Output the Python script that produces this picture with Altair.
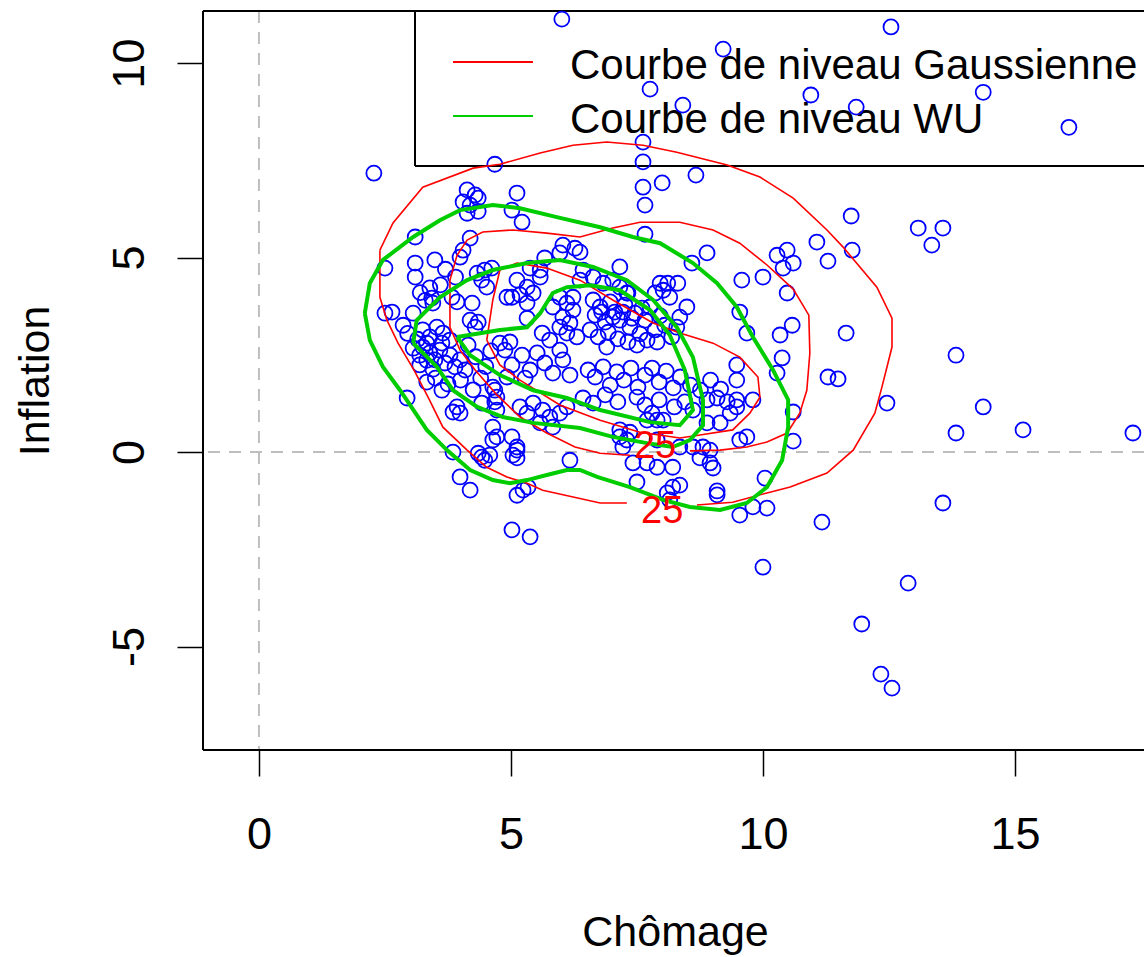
import altair as alt
import pandas as pd

FONT = "Liberation Sans"
X_DOMAIN = [-1.11, 17.56]
Y_DOMAIN = [-7.66, 11.34]
X_TICKS = [0, 5, 10, 15]
Y_TICKS = [-5, 0, 5, 10]

points = [
    (2.28,7.17),(6.01,11.13),(12.54,10.93),(9.21,10.36),(7.76,9.33),(8.41,8.92),(10.95,9.18),(11.85,8.87),(14.37,9.25),(16.07,8.35),
    (7.62,7.97),(7.62,7.46),(4.68,7.40),(8.67,7.12),(7.62,6.81),(8.00,6.92),(7.66,6.35),(11.75,6.07),(7.66,5.60),
    (13.08,5.76),(13.57,5.76),(13.35,5.32),(11.07,5.40),(11.29,4.91),(11.77,5.19),
    (8.89,5.12),(8.59,4.86),(10.28,5.06),(10.48,5.19),(10.40,4.73),(10.60,4.86),(10.00,4.50),(9.58,4.42),(10.48,4.09),
    (9.54,3.60),(9.68,3.06),(10.34,3.01),(10.58,3.26),(11.65,3.06),(13.83,2.49),(10.38,2.42),(10.28,2.03),
    (11.29,1.93),(11.49,1.88),(12.46,1.26),(14.37,1.16),(13.83,0.49),(15.16,0.57),(17.34,0.49),(10.60,1.03),(10.60,0.28),
    (9.48,2.24),(9.48,1.85),(9.80,1.34),(10.04,-0.67),(13.57,-1.31),(11.17,-1.80),(9.54,-1.62),(9.80,-1.41),(10.08,-1.44),
    (9.09,-1.00),(9.09,-1.10),(10.00,-2.96),(12.88,-3.37),(11.96,-4.42),(12.34,-5.71),(12.56,-6.07),
    (8.10,-1.05),(8.21,-0.90),(8.35,-0.85),(8.15,-1.23),(7.50,-0.77),(8.21,-0.39),(7.42,-0.28),(7.70,-0.28),(7.90,-0.39),
    (8.95,-0.28),(9.01,-0.41),(8.75,-0.15),(8.95,0.05),(9.68,0.39),(9.54,0.31),(8.81,0.13),(8.61,0.13),(8.35,0.13),
    (7.22,0.13),(7.16,0.39),(7.36,0.51),(7.90,0.31),(7.70,0.82),(7.90,0.82),(8.02,0.82),(7.80,1.00),(8.89,0.75),(9.15,0.75),
    (8.61,1.08),(9.35,1.00),(9.48,1.16),(7.16,0.57),(7.30,0.31),
    (2.50,4.73),(3.10,5.53),(3.10,4.86),(3.10,4.50),(3.49,4.94),
    (4.13,6.74),(4.29,6.61),(4.05,6.43),(4.35,6.53),(4.19,6.35),(4.13,6.14),(4.35,6.19),
    (5.12,6.66),(5.02,6.22),(5.22,5.91),(4.19,5.50),(4.05,5.19),(3.99,5.01),
    (6.03,5.32),(6.27,5.24),(5.97,5.12),(5.67,4.99),
    (5.38,4.73),(5.58,4.50),(5.12,4.42),(5.32,4.24),(5.18,4.04),(5.44,4.09),(5.02,3.98),(5.32,3.83),(5.58,4.68),
    (4.33,4.60),(4.48,4.68),(4.62,4.73),(4.42,4.42),(4.52,4.24),
    (3.39,4.22),(3.43,3.96),(3.83,3.98),(3.93,3.86),(2.50,3.57),(2.64,3.60),(2.86,3.26),(3.06,3.57),(3.45,3.83),(4.23,3.83),
    (4.19,3.39),(4.35,3.34),(4.29,3.21),(5.32,3.44),
    (3.25,3.14),(3.39,2.96),(3.53,3.21),(3.65,3.06),(3.79,2.88),(3.33,2.80),
    (4.92,3.98),(4.78,2.80),(4.98,2.83),
    (5.97,3.98),(6.11,3.83),(6.23,3.65),(6.03,3.47),(6.17,3.32),(5.97,3.21),(6.11,3.06),(6.31,2.96),(6.23,3.98),(5.83,3.73),
    (5.62,3.06),(5.77,2.88),
    (7.16,4.76),(7.02,4.42),(7.30,4.09),(7.96,4.34),(8.11,4.34),(8.31,4.34),(7.86,4.09),(8.02,4.16),(8.15,3.98),
    (8.49,3.73),(8.35,3.47),(8.29,3.21),(6.37,5.14),(6.43,4.68),(6.37,4.42),(8.19,2.96),
    (6.63,4.50),(6.83,4.34),(7.16,4.24),(7.32,4.09),
    (2.94,1.39),(3.99,-0.64),(4.19,-0.98),(3.85,0.00),(4.42,-0.13),(4.58,-0.08),(4.48,-0.21),(4.35,-0.03),
    (5.12,0.05),(5.04,-0.08),(5.12,-0.15),(5.12,-1.11),(5.24,-0.98),(5.34,-0.90),(5.02,-2.00),(5.38,-2.18),(6.17,-0.21),
    (4.64,0.64),(4.72,0.39),(4.64,0.31),(5.02,0.39),(5.12,0.13),
    (3.93,1.16),(3.99,1.00),(3.85,1.03),(3.33,1.80),(3.63,1.59),
    (4.42,1.26),(4.72,1.08),(4.68,1.59),(4.68,1.29),
    (5.18,1.16),(5.32,1.00),(5.44,1.26),(5.63,1.08),(5.77,0.90),(5.97,1.00),(6.11,1.16),(5.58,0.75),(5.83,0.64),
    (3.06,2.67),(3.19,2.49),(3.25,2.70),(3.39,2.55),(3.49,2.37),(3.59,2.62),(3.69,2.29),(3.79,2.49),(3.89,2.19),(3.45,2.13),
    (3.19,2.24),(3.99,2.37),(4.09,2.11),(3.63,2.80),(3.33,2.36),
    (3.50,1.90),(3.75,1.75),(4.00,1.85),(4.25,1.60),(4.40,1.90),(4.50,2.20),(4.30,2.45),(4.60,2.60),(4.15,2.75),
    (3.30,3.90),(3.60,4.30),(3.90,4.50),(3.70,4.70),(3.20,4.10),(2.95,3.05),(3.15,2.90),
    (4.88,2.62),(5.02,2.24),(5.22,2.49),(5.38,2.11),(5.52,2.55),(5.67,2.29),(5.83,2.03),(5.97,2.62),(6.03,2.37),(6.17,1.98),
    (5.28,1.90),(4.92,1.93),(4.64,1.67),(4.72,1.41),
    (6.53,2.11),(6.67,1.93),(6.83,2.19),(6.97,1.72),(7.10,2.06),(7.24,1.85),(7.38,2.16),(7.52,1.67),(7.66,1.98),(7.80,2.16),
    (7.94,1.80),(8.08,2.08),(8.22,1.65),(8.36,1.93),(8.56,1.72),(8.76,1.59),(8.96,1.85),(9.16,1.62),
    (6.43,1.39),(6.63,1.26),(6.87,1.47),(7.12,1.29),(7.50,1.41),(7.66,1.21),(7.94,1.34),(8.24,1.16),(8.45,1.29),
    (8.89,1.34),(9.09,1.39),(9.29,1.29),(9.48,1.34),
    (6.63,3.91),(6.77,3.73),(6.67,3.52),(6.87,3.34),(6.97,3.86),(7.06,3.60),(7.16,3.39),(7.26,3.78),(7.36,3.21),(7.46,3.57),
    (7.56,3.04),(7.66,3.39),(7.76,3.73),(7.86,3.14),(7.96,3.50),(6.57,3.14),(6.73,2.96),(6.93,3.08),(7.12,2.91),(7.32,2.83),
    (7.50,2.75),(7.70,2.88),(7.90,2.83),(8.05,3.26),(6.80,3.60),(7.02,3.47),(7.22,3.60),(7.40,3.44),(7.60,3.70),(6.90,2.70),
]

# Gaussian level curves (red); split where the level labels sit
gauss_outer_a = [(2.40,5.19),(2.66,5.89),(3.25,6.81),(4.25,7.30),(4.78,7.40),(5.58,7.69),(6.23,7.89),(6.90,7.97),
                 (7.62,7.89),(8.29,7.71),(9.29,7.38),(9.94,7.07),(10.60,6.53),(11.27,5.71),(11.59,5.27),(12.26,4.24),
                 (12.56,3.44),(12.56,2.70),(12.36,1.67),(12.22,1.00),(11.79,0.05),(11.27,-0.54),(10.54,-0.90),
                 (10.08,-1.05),(9.40,-1.29),(8.69,-1.36)]
gauss_outer_b = [(7.30,-1.31),(6.77,-1.31),(5.63,-0.98),(5.32,-0.80),(4.92,-0.64),(4.52,-0.39),(4.13,0.05),
                 (3.65,0.64),(3.36,1.40),(3.08,2.10),(2.76,2.80),(2.54,3.39),(2.40,3.98),(2.40,5.19)]
gauss_mid = [(7.36,-0.08),(6.77,-0.03),(6.27,0.13),(5.71,0.49),(5.18,0.90),(4.72,1.47),(4.29,2.11),(3.99,2.62),
             (3.79,3.21),(3.79,3.91),(3.79,4.42),(3.93,5.06),(4.13,5.45),(4.44,5.66),(5.04,5.71),(5.71,5.63),
             (6.37,5.53),(7.02,5.76),(7.56,5.91),(8.35,5.91),(9.01,5.71),(9.54,5.37),(10.08,4.81),(10.60,4.19),
             (10.91,3.52),(10.93,2.54),(10.87,1.59),(10.73,1.00),(10.48,0.49),(10.08,0.26),(9.68,0.13),
             (9.15,0.05),(8.55,0.03)]
gauss_inner = [(4.52,2.88),(4.64,3.91),(4.78,4.68),(5.12,4.86),(5.71,4.73),(6.37,4.42),(7.02,3.91),(7.82,3.32),
               (8.35,3.06),(9.01,2.80),(9.54,2.44),(9.90,1.93),(9.94,1.41),(9.74,1.00),(9.40,0.57),(8.75,0.44),
               (8.35,0.36),(7.56,0.51),(6.77,0.82),(5.97,1.21),(5.18,1.85),(4.78,2.24),(4.52,2.88)]

# WU level curves (green)
wu_outer = [(2.10,3.57),(2.20,4.34),(2.46,4.94),(3.06,5.53),(3.59,5.96),(3.99,6.22),(4.64,6.35),(5.18,6.27),
            (5.91,6.04),(6.77,5.78),(7.42,5.53),(7.96,5.37),(8.61,4.86),(9.09,4.34),(9.48,3.73),(9.80,2.96),
            (10.20,2.11),(10.50,1.34),(10.50,0.64),(10.38,-0.21),(10.08,-0.90),(9.68,-1.31),(9.15,-1.49),
            (8.55,-1.41),(8.02,-1.23),(7.36,-0.90),(6.71,-0.64),(6.37,-0.46),(6.11,-0.46),(5.71,-0.59),
            (5.32,-0.72),(4.98,-0.80),(4.64,-0.72),(4.19,-0.46),(3.73,0.05),(3.33,0.57),(2.80,1.59),
            (2.46,2.19),(2.20,2.88),(2.10,3.57)]
wu_mid = [(3.06,2.80),(3.13,3.39),(3.59,3.98),(4.13,4.42),(4.64,4.68),(5.32,4.86),(5.97,4.94),(6.63,4.76),
          (7.30,4.42),(7.82,3.91),(8.29,3.21),(8.61,2.44),(8.81,1.34),(8.81,0.69),(8.55,0.31),(8.21,0.13),
          (7.70,0.23),(7.02,0.39),(6.37,0.62),(5.44,0.75),(4.84,0.90),(4.33,1.16),(3.85,1.59),(3.53,2.19),(3.06,2.80)]
wu_inner = [(3.93,2.96),(4.78,3.14),(5.32,3.21),(5.58,3.57),(5.83,4.09),(6.11,4.24),(6.57,4.29),(7.16,4.16),
            (7.76,3.65),(8.15,3.01),(8.45,2.11),(8.61,1.08),(8.35,0.69),(7.76,0.77),(6.77,1.08),(6.11,1.39),
            (5.44,1.59),(4.78,1.98),(4.19,2.49),(3.93,2.96)]

level_labels = ["25", "25"]
label_x = [8.00, 7.86]
label_y = [-1.54, 0.13]

legend_labels = ["Courbe de niveau Gaussienne", "Courbe de niveau WU"]
legend_colors = ["#FF0000", "#00CD00"]


def curve_frame(curves):
    rows = []
    for seg, pts in curves:
        for i, (x, y) in enumerate(pts):
            rows.append({"x": x, "y": y, "seg": seg, "order": i})
    return pd.DataFrame(rows)


red_df = curve_frame([("o1", gauss_outer_a), ("o2", gauss_outer_b), ("m", gauss_mid), ("i", gauss_inner)])
green_df = curve_frame([("o", wu_outer), ("m", wu_mid), ("i", wu_inner)])
pts_df = pd.DataFrame(points, columns=["x", "y"])
lab_df = pd.DataFrame({"x": label_x, "y": label_y, "t": level_labels})

axis_x = alt.Axis(values=X_TICKS, labelExpr="'' + datum.value", grid=False, domain=False,
                  tickSize=26, tickWidth=1.5, tickColor="black",
                  labelFont=FONT, labelFontSize=45, labelColor="black", labelPadding=72,
                  labelBaseline="alphabetic", labelOverlap=False,
                  title="Chômage", titleFont=FONT, titleFontSize=43, titleFontWeight="normal",
                  titleColor="black", titleX=472, titleY=195, titleAlign="center",
                  titleBaseline="alphabetic")
axis_y = alt.Axis(values=Y_TICKS, labelExpr="'' + datum.value", grid=False, domain=False,
                  tickSize=26, tickWidth=1.5, tickColor="black",
                  labelFont=FONT, labelFontSize=45, labelColor="black", labelPadding=34,
                  labelAngle=270, labelAlign="center", labelBaseline="alphabetic", labelOverlap=False,
                  title="Inflation", titleFont=FONT, titleFontSize=43, titleFontWeight="normal",
                  titleColor="black", titleX=-155, titleY=369.5, titleAngle=270, titleAlign="center",
                  titleBaseline="alphabetic")

xs = alt.Scale(domain=X_DOMAIN, nice=False, zero=False)
ys = alt.Scale(domain=Y_DOMAIN, nice=False, zero=False)


def X():
    return alt.X("x:Q", scale=xs, axis=axis_x)


def Y():
    return alt.Y("y:Q", scale=ys, axis=axis_y)


vline = alt.Chart(pd.DataFrame({"x": [0]})).mark_rule(
    color="#BEBEBE", strokeWidth=2, strokeDash=[12, 9]).encode(x=X())
hline = alt.Chart(pd.DataFrame({"y": [0]})).mark_rule(
    color="#BEBEBE", strokeWidth=2, strokeDash=[12, 9]).encode(y=Y())

W, H = 941, 739
frame = [
    alt.Chart().mark_rule(color="black", strokeWidth=2).encode(x=alt.value(0), y=alt.value(0), y2=alt.value(H)),
    alt.Chart().mark_rule(color="black", strokeWidth=2).encode(x=alt.value(0), x2=alt.value(W), y=alt.value(0)),
    alt.Chart().mark_rule(color="black", strokeWidth=2).encode(x=alt.value(0), x2=alt.value(W), y=alt.value(H)),
    # legend box
    alt.Chart().mark_rule(color="black", strokeWidth=2).encode(x=alt.value(212), y=alt.value(0), y2=alt.value(155)),
    alt.Chart().mark_rule(color="black", strokeWidth=2).encode(x=alt.value(212), x2=alt.value(W), y=alt.value(155)),
    # legend samples
    alt.Chart().mark_rule(color=legend_colors[0], strokeWidth=2).encode(x=alt.value(250), x2=alt.value(330), y=alt.value(51)),
    alt.Chart().mark_rule(color=legend_colors[1], strokeWidth=2).encode(x=alt.value(250), x2=alt.value(330), y=alt.value(105)),
    alt.Chart().mark_text(text=legend_labels[0], font=FONT, fontSize=42, align="left", baseline="middle",
                          color="black").encode(x=alt.value(367), y=alt.value(55)),
    alt.Chart().mark_text(text=legend_labels[1], font=FONT, fontSize=42, align="left", baseline="middle",
                          color="black").encode(x=alt.value(367), y=alt.value(109)),
]

pts = alt.Chart(pts_df).mark_point(shape="circle", filled=False, color="#0000FF", size=225,
                                   strokeWidth=1.8, opacity=1).encode(x=X(), y=Y())

red = alt.Chart(red_df).mark_line(color="#FF0000", strokeWidth=1.6).encode(
    x=X(), y=Y(), detail="seg:N", order="order:Q")
green = alt.Chart(green_df).mark_line(color="#00CD00", strokeWidth=4).encode(
    x=X(), y=Y(), detail="seg:N", order="order:Q")
labels = alt.Chart(lab_df).mark_text(color="#FF0000", font=FONT, fontSize=38, baseline="middle",
                                     align="center").encode(x=X(), y=Y(), text="t:N")

chart = alt.layer(vline, hline, *frame, pts, red, green, labels).properties(
    width=W, height=H,
    padding={"left": 203, "top": 11, "right": 0, "bottom": 207},
    autosize=alt.AutoSizeParams(type="none"),
).configure_view(stroke="transparent")

chart.save("out.html", embed_options={"renderer": "svg", "actions": False})
